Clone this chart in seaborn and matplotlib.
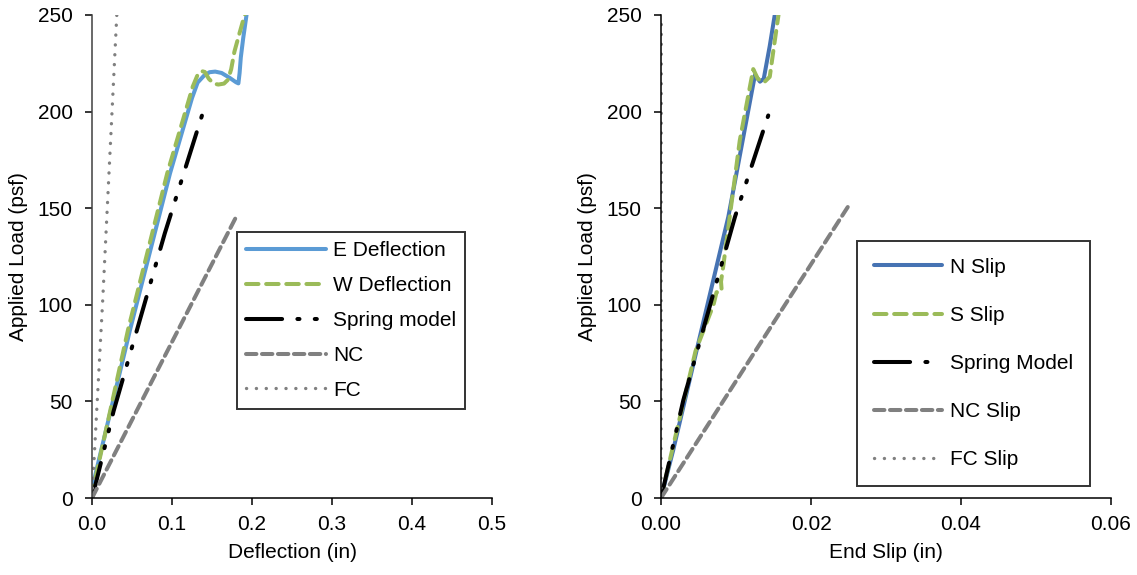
import matplotlib
matplotlib.use("Agg")
from matplotlib import pyplot as plt
import seaborn as sns

# ---- left panel: load vs deflection ----
e_defl_x = [0, 0.0017, 0.0475, 0.0975, 0.125, 0.132, 0.140, 0.147, 0.154, 0.162, 0.172, 0.180, 0.183, 0.1845, 0.186, 0.189, 0.1935]
e_defl_y = [0, 7.7, 87, 168, 207, 215, 218.6, 220.4, 220.7, 220, 217.5, 215.2, 214.6, 220, 228, 238, 251]
w_defl_x = [0, 0.002, 0.045, 0.094, 0.126, 0.132, 0.137, 0.141, 0.146, 0.152, 0.158, 0.165, 0.170, 0.174, 0.178, 0.184, 0.1915]
w_defl_y = [0, 6, 87, 168, 213, 219, 221, 220.5, 217, 214.5, 214, 214.5, 216.5, 222, 231, 240, 251]
spring_defl_x = [0, 0.0037, 0.027, 0.091, 0.139]
spring_defl_y = [0, 5.8, 45, 137, 200]
nc_defl_x = [0, 0.182]
nc_defl_y = [0, 147]
fc_defl_x = [0, 0.0134, 0.031]
fc_defl_y = [0, 102.5, 250]
left_labels = ["E Deflection", "W Deflection", "Spring model", "NC", "FC"]
left_xticks = [0.0, 0.1, 0.2, 0.3, 0.4, 0.5]

# ---- right panel: load vs end slip ----
n_slip_x = [0, 0.00164, 0.00476, 0.00898, 0.01253, 0.0132, 0.0137, 0.0145, 0.01525]
n_slip_y = [0, 25, 76.6, 145.6, 219, 215.5, 217, 234, 252]
s_slip_x = [0, 0.0015, 0.0046, 0.0070, 0.0074, 0.0081, 0.0080, 0.0083, 0.0105, 0.0123, 0.0129, 0.0137, 0.0145, 0.0150, 0.0157]
s_slip_y = [0, 25, 76, 100, 106.5, 107, 112, 120, 185, 222, 217, 215, 218, 232, 251]
spring_slip_x = [0, 0.0003, 0.00298, 0.00987, 0.0143]
spring_slip_y = [0, 5, 50.7, 145.6, 198]
nc_slip_x = [0, 0.0249]
nc_slip_y = [0, 150.6]
fc_slip_x = [0, 0.00004]
fc_slip_y = [0, 250]
right_labels = ["N Slip", "S Slip", "Spring Model", "NC Slip", "FC Slip"]
right_xticks = [0.00, 0.02, 0.04, 0.06]

yticks = [0, 50, 100, 150, 200, 250]

sns.set_style("ticks")
plt.rcParams['font.family'] = ['Liberation Sans', 'DejaVu Sans']
plt.rcParams['font.size'] = 15
for key in ['text.color', 'axes.labelcolor', 'xtick.color', 'ytick.color']:
    plt.rcParams[key] = 'black'
plt.rcParams['lines.scale_dashes'] = False

fig = plt.figure(figsize=(11.37, 5.75), dpi=100)
W, H = 1137, 575
ax1 = fig.add_axes([92 / W, 77 / H, 400 / W, 483 / H])
ax2 = fig.add_axes([661 / W, 77 / H, 450 / W, 483 / H])

# dash patterns in points (unscaled)
spring_ls = (0, (26, 11, 1.5, 11, 1.5, 11))
green_ls = (0, (9, 5.5))
gray_ls = (0, (7.5, 4))
dot_ls = (0, (0.1, 7))


def draw(ax, x, y, color, ls, lw, label):
    line = sns.lineplot(x=x, y=y, ax=ax, sort=False, estimator=None, color=color,
                        linewidth=lw, label=label).lines[-1]
    line.set_linestyle(ls)
    line.set_dash_capstyle('round')
    line.set_solid_capstyle('round')


draw(ax1, e_defl_x, e_defl_y, '#5B9BD5', '-', 2.9, left_labels[0])
draw(ax1, w_defl_x, w_defl_y, '#9BBB59', green_ls, 2.9, left_labels[1])
draw(ax1, spring_defl_x, spring_defl_y, 'black', spring_ls, 2.9, left_labels[2])
draw(ax1, nc_defl_x, nc_defl_y, '#808080', gray_ls, 2.9, left_labels[3])
draw(ax1, fc_defl_x, fc_defl_y, '#808080', dot_ls, 2.4, left_labels[4])

draw(ax2, n_slip_x, n_slip_y, '#4673B3', '-', 2.9, right_labels[0])
draw(ax2, s_slip_x, s_slip_y, '#9BBB59', green_ls, 2.9, right_labels[1])
draw(ax2, spring_slip_x, spring_slip_y, 'black', spring_ls, 2.9, right_labels[2])
draw(ax2, nc_slip_x, nc_slip_y, '#808080', gray_ls, 2.9, right_labels[3])
draw(ax2, fc_slip_x, fc_slip_y, '#808080', dot_ls, 2.4, right_labels[4])

for ax, xt, fmt, xlabel in [(ax1, left_xticks, "{:.1f}", "Deflection (in)"),
                            (ax2, right_xticks, "{:.2f}", "End Slip (in)")]:
    ax.set_xlim(xt[0], xt[-1])
    ax.set_ylim(0, 250)
    ax.set_xticks(xt)
    ax.set_xticklabels([fmt.format(v) for v in xt])
    ax.set_yticks(yticks)
    ax.set_yticklabels([str(v) for v in yticks])
    for s in ["top", "right"]:
        ax.spines[s].set_visible(False)
    for s in ["left", "bottom"]:
        ax.spines[s].set_color('black')
        ax.spines[s].set_linewidth(1.1)
    ax.tick_params(axis='both', direction='out', length=5, width=1.1, colors='black', labelsize=15)
    ax.tick_params(axis='y', pad=9)
    ax.tick_params(axis='x', pad=7)
    ax.set_xlabel(xlabel, fontsize=15, labelpad=7)
    ax.set_ylabel("Applied Load (psf)", fontsize=15, labelpad=7)

ax1.spines['left'].set_color('#404040')

leg1 = ax1.legend(loc='upper left', bbox_to_anchor=(237 / W, 1 - 232 / H), bbox_transform=fig.transFigure,
                  borderaxespad=0, frameon=True, fancybox=False, edgecolor='black', fontsize=15,
                  handlelength=3.8, handletextpad=0.35, labelspacing=0.76, borderpad=0.45)
leg1.get_frame().set_linewidth(1.4)
leg2 = ax2.legend(loc='upper left', bbox_to_anchor=(857 / W, 1 - 241 / H), bbox_transform=fig.transFigure,
                  borderaxespad=0, frameon=True, fancybox=False, edgecolor='black', fontsize=15,
                  handlelength=3.3, handletextpad=0.35, labelspacing=1.4, borderpad=0.8)
leg2.get_frame().set_linewidth(1.4)

fig.savefig("out.png", dpi=100, facecolor='white')
